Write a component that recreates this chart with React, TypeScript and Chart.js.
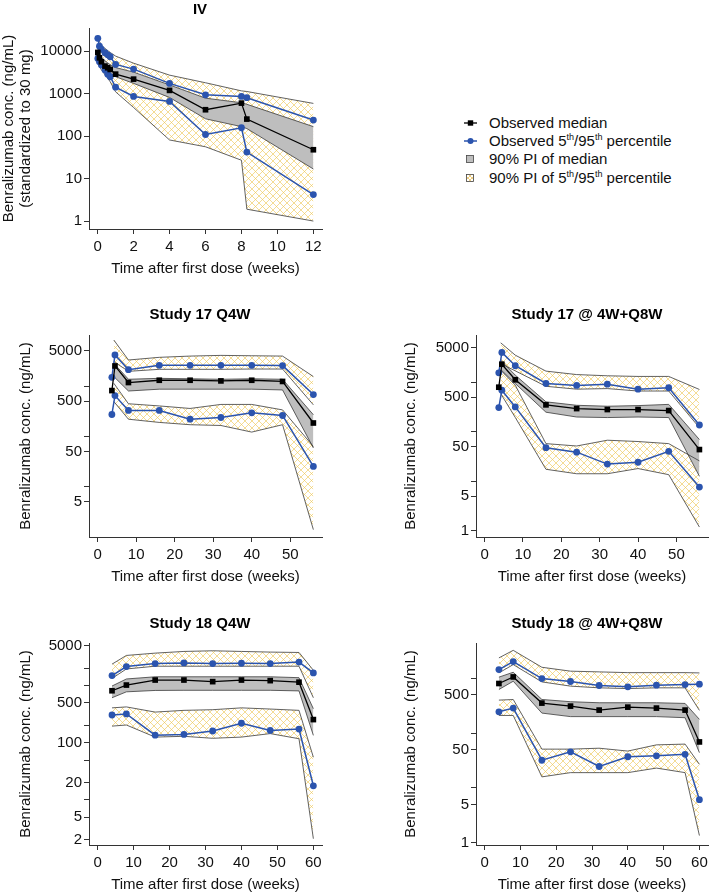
import React, { useEffect, useRef } from 'react';
import { Chart, registerables } from 'chart.js';

Chart.register(...registerables);

const FONT = '"Liberation Sans", Arial, Helvetica, sans-serif';
const BLUE = '#2B54AE';
const AXIS = '#333333';
const TXT = '#111111';
const GRAY_FILL = '#BEBEBE';
const EDGE = '#3A3A3A';

// ---------------- IV ----------------
const IV_TIMES = [0.01, 0.1, 0.21, 0.41, 0.56, 0.7, 1, 2, 4, 6, 8, 8.3, 12];
const IV_MEDIAN = [9300, 6960, 5630, 4440, 4060, 3700, 2870, 2190, 1190, 417, 597, 251, 47.7];
const IV_P95 = [20000, 13100, 10950, 9140, 8200, 7360, 4860, 3770, 1740, 937, 858, 800, 238];
const IV_P05 = [6720, 5610, 4680, 3570, 2870, 2490, 1420, 858, 654, 109, 157, 42, 4.2];
const IV_MED_HI = [11000, 8600, 7200, 5900, 5300, 4800, 4100, 3200, 1600, 780, 610, 560, 167];
const IV_MED_LO = [7000, 5600, 4700, 3800, 3400, 3000, 2500, 1740, 812, 255, 167, 150, 16.8];
const IV_PCT_HI = [23800, 17000, 14000, 11500, 10300, 9300, 7630, 5200, 2720, 1800, 1160, 1120, 588];
const IV_PCT_LO = [5120, 4400, 3600, 2800, 2300, 1900, 1100, 471, 81, 56, 27, 1.9, 1.0];

// ---------------- Study 17 Q4W ----------------
const S17Q4W_OBS_T = [3.7, 4.5, 8, 16, 24, 32, 40, 48, 56];
const S17Q4W_MEDIAN = [816, 2520, 1180, 1310, 1310, 1270, 1310, 1240, 185];
const S17Q4W_P95 = [1500, 4170, 2130, 2600, 2600, 2600, 2600, 2560, 680];
const S17Q4W_P05 = [273, 650, 329, 329, 220, 238, 295, 261, 25.3];
const S17Q4W_BAND_T = [4.2, 8, 16, 24, 32, 40, 48, 56];
const S17Q4W_MED_HI = [2850, 1370, 1430, 1400, 1370, 1400, 1370, 270];
const S17Q4W_MED_LO = [1550, 800, 870, 870, 870, 870, 840, 59];
const S17Q4W_P95_HI = [8270, 3310, 3740, 3960, 4090, 4020, 3960, 1550];
const S17Q4W_P95_LO = [3080, 1970, 2160, 2160, 2160, 2190, 2190, 425];
const S17Q4W_P05_HI = [1140, 446, 404, 360, 433, 433, 337, 63];
const S17Q4W_P05_LO = [495, 220, 190, 171, 165, 122, 171, 1.4];

// ---------------- Study 17 @ 4W+Q8W ----------------
const S17Q8W_OBS_T = [3.7, 4.5, 8, 16, 24, 32, 40, 48, 56];
const S17Q8W_MEDIAN = [800, 2330, 1130, 352, 296, 283, 283, 270, 44];
const S17Q8W_P95 = [1560, 4040, 2170, 950, 870, 920, 730, 780, 138];
const S17Q8W_P05 = [310, 697, 320, 48, 39, 22.4, 24.4, 40.6, 7.7];
const S17Q8W_BAND_T = [4.2, 8, 16, 24, 32, 40, 48, 56];
const S17Q8W_MED_HI = [2820, 1400, 405, 345, 330, 340, 360, 70];
const S17Q8W_MED_LO = [1820, 950, 250, 200, 195, 200, 195, 12.7];
const S17Q8W_P95_HI = [6300, 3550, 1690, 1440, 1360, 1320, 1320, 720];
const S17Q8W_P95_LO = [2400, 1710, 835, 730, 750, 670, 670, 122];
const S17Q8W_P05_HI = [1770, 880, 58, 52, 68, 64, 58, 26];
const S17Q8W_P05_LO = [594, 196, 17.6, 14.3, 14.3, 18.2, 13.7, 1.2];

// ---------------- Study 18 Q4W ----------------
const S18Q4W_T = [4, 8, 16, 24, 32, 40, 48, 56, 60];
const S18Q4W_MEDIAN = [815, 1025, 1255, 1255, 1176, 1255, 1225, 1150, 255];
const S18Q4W_P95 = [1500, 2160, 2440, 2500, 2440, 2470, 2440, 2590, 1670];
const S18Q4W_P05 = [307, 320, 136, 140, 161, 220, 165, 174, 17.7];
const S18Q4W_MED_HI = [985, 1310, 1430, 1430, 1430, 1430, 1430, 1380, 395];
const S18Q4W_MED_LO = [615, 780, 825, 830, 830, 830, 830, 810, 135];
const S18Q4W_P95_HI = [2380, 3380, 3710, 3970, 4080, 3970, 3870, 3810, 1860];
const S18Q4W_P95_LO = [1340, 1960, 2190, 2190, 2190, 2190, 2190, 2190, 615];
const S18Q4W_P05_HI = [409, 425, 345, 370, 380, 409, 390, 370, 56];
const S18Q4W_P05_LO = [196, 205, 126, 130, 120, 126, 145, 118, 2.1];

// ---------------- Study 18 @ 4W+Q8W ----------------
const S18Q8W_T = [4, 8, 16, 24, 32, 40, 48, 56, 60];
const S18Q8W_MEDIAN = [804, 1060, 353, 311, 263, 298, 286, 263, 69];
const S18Q8W_P95 = [1445, 2020, 990, 874, 740, 700, 750, 770, 782];
const S18Q8W_P05 = [245, 286, 32, 45.5, 24.6, 37, 38.5, 41, 6.1];
const S18Q8W_MED_HI = [1050, 1290, 411, 374, 358, 358, 358, 348, 178];
const S18Q8W_MED_LO = [625, 885, 232, 200, 200, 200, 200, 191, 44];
const S18Q8W_P95_HI = [2360, 3240, 1590, 1350, 1310, 1270, 1270, 1270, 1255];
const S18Q8W_P95_LO = [1255, 1780, 860, 720, 670, 650, 670, 670, 260];
const S18Q8W_P05_HI = [400, 410, 51, 51, 53, 47, 61, 63, 27];
const S18Q8W_P05_LO = [210, 210, 15.9, 19, 19, 19, 23, 19, 1.35];

// ---------------- Axis ticks ----------------
const X_TICKS_IV = [0, 2, 4, 6, 8, 10, 12];
const X_TICKS_S17 = [0, 10, 20, 30, 40, 50];
const X_TICKS_S18 = [0, 10, 20, 30, 40, 50, 60];
const Y_TICKS_IV = [1, 10, 100, 1000, 10000];
const Y_LABELS_IV = [1, 10, 100, 1000, 10000];
const Y_TICKS_S17Q4W = [5, 10, 50, 100, 500, 1000, 5000];
const Y_LABELS_S17Q4W = [5, 50, 500, 5000];
const Y_TICKS_S17Q8W = [1, 5, 10, 50, 100, 500, 1000, 5000];
const Y_LABELS_S17Q8W = [1, 5, 50, 500, 5000];
const Y_TICKS_S18Q4W = [2, 5, 10, 20, 50, 100, 200, 500, 1000, 2000, 5000];
const Y_LABELS_S18Q4W = [2, 5, 20, 100, 500, 5000];
const Y_TICKS_S18Q8W = [1, 5, 10, 50, 100, 500, 1000];
const Y_LABELS_S18Q8W = [1, 5, 50, 500];

const X_TITLE = 'Time after first dose (weeks)';
const Y_TITLE = 'Benralizumab conc. (ng/mL)';

type Band = { t: number[]; hi: number[]; lo: number[] };
type PanelDef = {
  title: string;
  titleX: number;
  titleY: number;
  yTitle: string | string[];
  canvas: { x: number; y: number; w: number; h: number };
  area: { l: number; t: number; r: number; b: number };
  xMin: number; xMax: number; xTicks: number[];
  yMin: number; yMax: number; yTicks: number[]; yLabels: number[];
  obsT: number[]; median: number[]; p95: number[]; p05: number[];
  medBand: Band;
  hatchBands: Band[];
};

const PANELS: PanelDef[] = [
  {
    title: 'IV', titleX: 200, titleY: 9.5,
    yTitle: [Y_TITLE, '(standardized to 30 mg)'],
    canvas: { x: 0, y: 0, w: 340, h: 290 },
    area: { l: 89, t: 28, r: 322, b: 229 },
    xMin: -0.48, xMax: 12.48, xTicks: X_TICKS_IV,
    yMin: 0.65, yMax: 35000, yTicks: Y_TICKS_IV, yLabels: Y_LABELS_IV,
    obsT: IV_TIMES, median: IV_MEDIAN, p95: IV_P95, p05: IV_P05,
    medBand: { t: IV_TIMES, hi: IV_MED_HI, lo: IV_MED_LO },
    hatchBands: [{ t: IV_TIMES, hi: IV_PCT_HI, lo: IV_PCT_LO }],
  },
  {
    title: 'Study 17 Q4W', titleX: 200, titleY: 315,
    yTitle: Y_TITLE,
    canvas: { x: 0, y: 295, w: 340, h: 295 },
    area: { l: 89, t: 335, r: 322, b: 537 },
    xMin: -2.24, xMax: 58.24, xTicks: X_TICKS_S17,
    yMin: 1.0, yMax: 10400, yTicks: Y_TICKS_S17Q4W, yLabels: Y_LABELS_S17Q4W,
    obsT: S17Q4W_OBS_T, median: S17Q4W_MEDIAN, p95: S17Q4W_P95, p05: S17Q4W_P05,
    medBand: { t: S17Q4W_BAND_T, hi: S17Q4W_MED_HI, lo: S17Q4W_MED_LO },
    hatchBands: [
      { t: S17Q4W_BAND_T, hi: S17Q4W_P95_HI, lo: S17Q4W_P95_LO },
      { t: S17Q4W_BAND_T, hi: S17Q4W_P05_HI, lo: S17Q4W_P05_LO },
    ],
  },
  {
    title: 'Study 17 @ 4W+Q8W', titleX: 587, titleY: 315,
    yTitle: Y_TITLE,
    canvas: { x: 360, y: 295, w: 352, h: 295 },
    area: { l: 476, t: 335, r: 709, b: 537 },
    xMin: -2.24, xMax: 58.24, xTicks: X_TICKS_S17,
    yMin: 0.755, yMax: 9065, yTicks: Y_TICKS_S17Q8W, yLabels: Y_LABELS_S17Q8W,
    obsT: S17Q8W_OBS_T, median: S17Q8W_MEDIAN, p95: S17Q8W_P95, p05: S17Q8W_P05,
    medBand: { t: S17Q8W_BAND_T, hi: S17Q8W_MED_HI, lo: S17Q8W_MED_LO },
    hatchBands: [
      { t: S17Q8W_BAND_T, hi: S17Q8W_P95_HI, lo: S17Q8W_P95_LO },
      { t: S17Q8W_BAND_T, hi: S17Q8W_P05_HI, lo: S17Q8W_P05_LO },
    ],
  },
  {
    title: 'Study 18 Q4W', titleX: 200, titleY: 624,
    yTitle: Y_TITLE,
    canvas: { x: 0, y: 600, w: 340, h: 295 },
    area: { l: 89, t: 643, r: 322, b: 845 },
    xMin: -2.4, xMax: 62.4, xTicks: X_TICKS_S18,
    yMin: 1.63, yMax: 5580, yTicks: Y_TICKS_S18Q4W, yLabels: Y_LABELS_S18Q4W,
    obsT: S18Q4W_T, median: S18Q4W_MEDIAN, p95: S18Q4W_P95, p05: S18Q4W_P05,
    medBand: { t: S18Q4W_T, hi: S18Q4W_MED_HI, lo: S18Q4W_MED_LO },
    hatchBands: [
      { t: S18Q4W_T, hi: S18Q4W_P95_HI, lo: S18Q4W_P95_LO },
      { t: S18Q4W_T, hi: S18Q4W_P05_HI, lo: S18Q4W_P05_LO },
    ],
  },
  {
    title: 'Study 18 @ 4W+Q8W', titleX: 587, titleY: 624,
    yTitle: Y_TITLE,
    canvas: { x: 360, y: 600, w: 352, h: 295 },
    area: { l: 476, t: 643, r: 709, b: 845 },
    xMin: -2.4, xMax: 62.4, xTicks: X_TICKS_S18,
    yMin: 0.908, yMax: 4410, yTicks: Y_TICKS_S18Q8W, yLabels: Y_LABELS_S18Q8W,
    obsT: S18Q8W_T, median: S18Q8W_MEDIAN, p95: S18Q8W_P95, p05: S18Q8W_P05,
    medBand: { t: S18Q8W_T, hi: S18Q8W_MED_HI, lo: S18Q8W_MED_LO },
    hatchBands: [
      { t: S18Q8W_T, hi: S18Q8W_P95_HI, lo: S18Q8W_P95_LO },
      { t: S18Q8W_T, hi: S18Q8W_P05_HI, lo: S18Q8W_P05_LO },
    ],
  },
];

function makeHatch(): CanvasPattern | string {
  const s = 7;
  const c = document.createElement('canvas');
  c.width = s;
  c.height = s;
  const g = c.getContext('2d');
  if (!g) return 'rgba(240,210,120,0.3)';
  g.strokeStyle = 'rgba(238,198,84,0.62)';
  g.lineWidth = 1;
  g.beginPath();
  for (const o of [-s, 0, s]) {
    g.moveTo(o - 1, -1);
    g.lineTo(o + s + 1, s + 1);
    g.moveTo(o + s + 1, -1);
    g.lineTo(o - 1, s + 1);
  }
  g.stroke();
  return g.createPattern(c, 'repeat') || 'rgba(240,210,120,0.3)';
}

const panelTitlePlugin = {
  id: 'panelTitle',
  afterDraw(chart: any, _args: any, opts: any) {
    const ctx = chart.ctx as CanvasRenderingContext2D;
    ctx.save();
    ctx.font = `bold 15px ${FONT}`;
    ctx.fillStyle = '#000';
    ctx.textAlign = 'center';
    ctx.textBaseline = 'middle';
    ctx.fillText(opts.text, opts.x, opts.y);
    ctx.restore();
  },
};

function buildConfig(p: PanelDef): any {
  const hatch = makeHatch();
  const pts = (t: number[], v: number[]) => t.map((x, i) => ({ x, y: v[i] }));
  const edge = (data: any[], fillColor: any) => ({
    data,
    borderColor: EDGE,
    borderWidth: 0.8,
    pointRadius: 0,
    tension: 0,
    fill: fillColor ? '+1' : false,
    backgroundColor: fillColor || 'transparent',
  });
  const datasets: any[] = [
    {
      label: 'Observed median',
      data: pts(p.obsT, p.median),
      borderColor: '#000',
      borderWidth: 1.3,
      pointStyle: 'rect',
      pointRadius: 4,
      pointBackgroundColor: '#000',
      pointBorderWidth: 0,
      fill: false,
      tension: 0,
    },
    {
      label: 'Observed 95th percentile',
      data: pts(p.obsT, p.p95),
      borderColor: BLUE,
      borderWidth: 1.5,
      pointStyle: 'circle',
      pointRadius: 3.4,
      pointBackgroundColor: BLUE,
      pointBorderWidth: 0,
      fill: false,
      tension: 0,
    },
    {
      label: 'Observed 5th percentile',
      data: pts(p.obsT, p.p05),
      borderColor: BLUE,
      borderWidth: 1.5,
      pointStyle: 'circle',
      pointRadius: 3.4,
      pointBackgroundColor: BLUE,
      pointBorderWidth: 0,
      fill: false,
      tension: 0,
    },
    edge(pts(p.medBand.t, p.medBand.hi), GRAY_FILL),
    edge(pts(p.medBand.t, p.medBand.lo), null),
  ];
  for (const b of p.hatchBands) {
    datasets.push(edge(pts(b.t, b.hi), hatch));
    datasets.push(edge(pts(b.t, b.lo), null));
  }

  const c = p.canvas;
  const a = p.area;
  const yW = a.l - c.x;
  const xH = c.y + c.h - a.b;
  const xTitleCenter = a.b + 39.5 - c.y;
  const xTitlePadB = c.h - xTitleCenter - 9;
  const yTitleCenter = Array.isArray(p.yTitle) ? 8.8 : (c.x === 0 ? 26.3 : 51);
  const yTitlePadT = Math.max(0, yTitleCenter - 8.625);

  return {
    type: 'line',
    data: { datasets },
    plugins: [panelTitlePlugin],
    options: {
      responsive: false,
      animation: false,
      events: [],
      layout: { padding: { left: 0, top: a.t - c.y, right: c.x + c.w - a.r, bottom: 0 } },
      plugins: {
        legend: { display: false },
        tooltip: { enabled: false },
        title: { display: false },
        filler: { drawTime: 'beforeDatasetsDraw' },
        panelTitle: { text: p.title, x: p.titleX - c.x, y: p.titleY - c.y },
      },
      scales: {
        x: {
          type: 'linear',
          position: 'bottom',
          min: p.xMin,
          max: p.xMax,
          afterBuildTicks: (s: any) => { s.ticks = p.xTicks.map((v) => ({ value: v })); },
          afterFit: (s: any) => {
            s.height = xH;
            s.paddingLeft = 0; s.paddingRight = 0; s.paddingTop = 0; s.paddingBottom = 0;
          },
          grid: { display: true, drawOnChartArea: false, drawTicks: true, tickLength: 5, color: AXIS, lineWidth: 1 },
          border: { display: true, color: AXIS, width: 1 },
          ticks: {
            autoSkip: false, maxRotation: 0, minRotation: 0, padding: 4, color: TXT,
            font: { family: FONT, size: 15, lineHeight: 1.2 },
            callback: (v: any) => String(v),
          },
          title: {
            display: true, text: X_TITLE, color: TXT,
            font: { family: FONT, size: 15, lineHeight: 1.2 },
            padding: { top: 0, bottom: xTitlePadB },
          },
        },
        y: {
          type: 'logarithmic',
          position: 'left',
          min: p.yMin,
          max: p.yMax,
          afterBuildTicks: (s: any) => { s.ticks = p.yTicks.map((v) => ({ value: v })); },
          afterFit: (s: any) => {
            s.width = yW;
            s.paddingLeft = 0; s.paddingRight = 0; s.paddingTop = 0; s.paddingBottom = 0;
          },
          grid: { display: true, drawOnChartArea: false, drawTicks: true, tickLength: 5, color: AXIS, lineWidth: 1 },
          border: { display: true, color: AXIS, width: 1 },
          ticks: {
            autoSkip: false, padding: 2, color: TXT,
            font: { family: FONT, size: 15, lineHeight: 1.2 },
            callback: (v: any) => (p.yLabels.includes(Number(v)) ? String(v) : ''),
          },
          title: {
            display: true, text: p.yTitle, color: TXT,
            font: { family: FONT, size: 15, lineHeight: 1.15 },
            padding: { top: yTitlePadT, bottom: 0 },
          },
        },
      },
    },
  };
}

function Panel({ def }: { def: PanelDef }) {
  const ref = useRef<HTMLCanvasElement | null>(null);
  useEffect(() => {
    if (!ref.current) return;
    const chart = new Chart(ref.current, buildConfig(def));
    return () => chart.destroy();
  }, [def]);
  const c = def.canvas;
  return (
    <canvas
      ref={ref}
      width={c.w}
      height={c.h}
      style={{ position: 'absolute', left: c.x, top: c.y, width: c.w, height: c.h, display: 'block' }}
    />
  );
}

const Sup = ({ children }: { children: React.ReactNode }) => (
  <span style={{ fontSize: 9, position: 'relative', top: -6 }}>{children}</span>
);

function LegendIcon({ kind }: { kind: 'median' | 'pct' | 'gray' | 'hatch' }) {
  return (
    <svg width={16} height={12} style={{ display: 'block' }}>
      <defs>
        <pattern id="lgHatch" width="4" height="4" patternUnits="userSpaceOnUse">
          <path d="M0,0 L4,4 M4,0 L0,4" stroke="#E9C060" strokeWidth="0.8" />
        </pattern>
      </defs>
      {kind === 'median' && (
        <g>
          <line x1={2} y1={6} x2={15} y2={6} stroke="#000" strokeWidth={1.3} />
          <rect x={5.8} y={3.3} width={5.4} height={5.4} fill="#000" />
        </g>
      )}
      {kind === 'pct' && (
        <g>
          <line x1={2} y1={6} x2={15} y2={6} stroke={BLUE} strokeWidth={1.5} />
          <circle cx={8.5} cy={6} r={3} fill={BLUE} />
        </g>
      )}
      {kind === 'gray' && <rect x={4.5} y={2.5} width={7} height={7} fill={GRAY_FILL} stroke="#444" strokeWidth={0.8} />}
      {kind === 'hatch' && <rect x={4.5} y={2.5} width={7} height={7} fill="url(#lgHatch)" stroke="#444" strokeWidth={0.8} />}
    </svg>
  );
}

function Legend() {
  const rows: { y: number; kind: 'median' | 'pct' | 'gray' | 'hatch'; label: React.ReactNode }[] = [
    { y: 123, kind: 'median', label: <>Observed median</> },
    { y: 141, kind: 'pct', label: <>Observed 5<Sup>th</Sup>/95<Sup>th</Sup> percentile</> },
    { y: 159.3, kind: 'gray', label: <>90% PI of median</> },
    { y: 177.5, kind: 'hatch', label: <>90% PI of 5<Sup>th</Sup>/95<Sup>th</Sup> percentile</> },
  ];
  return (
    <>
      {rows.map((r, i) => (
        <React.Fragment key={i}>
          <div style={{ position: 'absolute', left: 462, top: r.y - 6 }}>
            <LegendIcon kind={r.kind} />
          </div>
          <div
            style={{
              position: 'absolute', left: 489, top: r.y - 9, height: 18, lineHeight: '18px',
              fontSize: 15, fontFamily: FONT, color: TXT, whiteSpace: 'nowrap',
            }}
          >
            {r.label}
          </div>
        </React.Fragment>
      ))}
    </>
  );
}

export default function App() {
  return (
    <div
      style={{
        position: 'absolute', left: 0, top: 0, width: 709, height: 895,
        overflow: 'hidden', background: '#fff', fontFamily: FONT,
      }}
    >
      {PANELS.map((p, i) => (
        <Panel key={i} def={p} />
      ))}
      <Legend />
    </div>
  );
}
